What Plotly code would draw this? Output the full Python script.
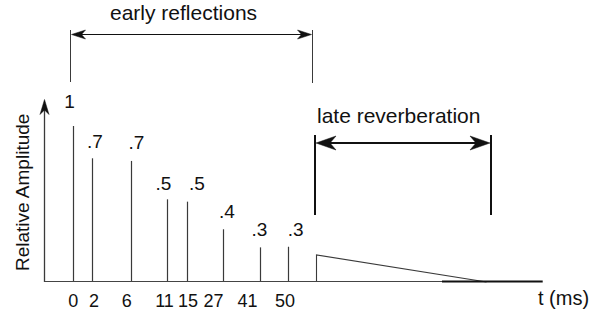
import plotly.graph_objects as go

# ---------------- data ----------------
times = [0, 2, 6, 11, 15, 27, 41, 50]                       # tick labels, ms
amp_labels = ["1", ".7", ".7", ".5", ".5", ".4", ".3", ".3"]  # printed amplitudes
heights = [1.0, 0.793, 0.776, 0.530, 0.515, 0.338, 0.222, 0.226]  # drawn heights
reverb_level = [0.173, 0.0]                                 # late reverb envelope

# ---------------- layout constants ----------------
W, H = 592, 317
BASE_PX = 282.0          # pixel row of the time axis
PX_PER_UNIT = 156.0      # pixels per amplitude unit


def py(p):
    """pixel row -> amplitude units"""
    return (BASE_PX - p) / PX_PER_UNIT


impulse_x = [73.5, 92.5, 131.5, 167.5, 187.5, 223.5, 260.5, 288.5]
tick_x = [73.3, 94.0, 126.7, 164.5, 188.0, 213.5, 247.5, 285.0]
label_xy = [(69.5, 103.7), (95.0, 143.5), (136.5, 144.0), (163.5, 185.0),
            (197.0, 185.0), (227.0, 213.5), (259.5, 231.0), (295.7, 231.5)]
reverb_x = [316.5, 486.5]

FONT = "Liberation Sans, Arial, Helvetica, sans-serif"
INK = "#111111"
LINE = "#3a3a3a"

fig = go.Figure()

# impulses
ix, iy = [], []
for xp, h in zip(impulse_x, heights):
    ix += [xp, xp, None]
    iy += [0, h, None]
fig.add_trace(go.Scatter(x=ix, y=iy, mode="lines",
                         line=dict(color=LINE, width=1.2), hoverinfo="skip"))

# late reverberation envelope
fig.add_trace(go.Scatter(x=[reverb_x[0], reverb_x[0], reverb_x[1]],
                         y=[0, reverb_level[0], reverb_level[1]], mode="lines",
                         line=dict(color=LINE, width=1.1), hoverinfo="skip"))

# amplitude labels
fig.add_trace(go.Scatter(x=[p[0] for p in label_xy], y=[py(p[1]) for p in label_xy],
                         mode="text", text=amp_labels, textposition="middle center",
                         textfont=dict(family=FONT, size=19, color=INK),
                         hoverinfo="skip"))

# time tick labels
fig.add_trace(go.Scatter(x=tick_x, y=[py(302.5)] * len(times), mode="text",
                         text=[str(t) for t in times], textposition="middle center",
                         textfont=dict(family=FONT, size=18, color=INK),
                         hoverinfo="skip"))

shapes = []


def seg(x0, y0, x1, y1, w=1.0, c=LINE):
    shapes.append(dict(type="line", xref="x", yref="y", x0=x0, y0=py(y0),
                       x1=x1, y1=py(y1), line=dict(color=c, width=w)))


def head(tx, ty, dx, dy, L, Wd, notch, c=INK):
    # tip at pixel (tx, ty), direction (dx, dy) in pixel space
    nx, ny = -dy, dx
    bx, by = tx - dx * L, ty - dy * L
    p1 = (bx + nx * Wd / 2, by + ny * Wd / 2)
    p2 = (bx - nx * Wd / 2, by - ny * Wd / 2)
    nn = (tx - dx * (L - notch), ty - dy * (L - notch))
    pts = [(tx, ty), p1, nn, p2]
    path = "M" + " L".join(f"{x:.2f},{py(y):.5f}" for x, y in pts) + " Z"
    shapes.append(dict(type="path", xref="x", yref="y", path=path,
                       fillcolor=c, line=dict(color=c, width=0.5)))


# axes
seg(44.5, BASE_PX, 44.5, 104, w=1.3, c=LINE)
head(44.5, 99.5, 0, -1, 15, 9, 4.5)
seg(44.5, 281.5, 442, 281.5, w=1.2, c="#444444")
seg(442, 281.5, 542.7, 281.5, w=2.0, c="#111111")

# early reflections bracket
seg(70.5, 30, 70.5, 82, w=1.0)
seg(312.5, 30, 312.5, 83, w=1.0)
seg(75, 34.5, 308, 34.5, w=1.2, c=INK)
head(71.5, 34.5, -1, 0, 14, 9, 4)
head(311.5, 34.5, 1, 0, 14, 9, 4)

# late reverberation bracket
seg(315, 135, 315, 215, w=2.0, c=INK)
seg(491, 135, 491, 215, w=2.0, c=INK)
seg(322, 143, 484, 143, w=2.0, c=INK)
head(316, 143, -1, 0, 20, 14, 6)
head(490, 143, 1, 0, 20, 14, 6)

annotations = [
    dict(x=183.5, y=py(12.5), text="early reflections", showarrow=False,
         font=dict(family=FONT, size=21, color=INK), xanchor="center", yanchor="middle"),
    dict(x=398, y=py(115.5), text="late reverberation", showarrow=False,
         font=dict(family=FONT, size=21, color=INK), xanchor="center", yanchor="middle"),
    dict(x=563, y=py(297.5), text="t (ms)", showarrow=False,
         font=dict(family=FONT, size=20, color=INK), xanchor="center", yanchor="middle"),
    dict(x=22.5, y=py(192.5), text="Relative Amplitude", showarrow=False, textangle=-90,
         font=dict(family=FONT, size=19, color=INK), xanchor="center", yanchor="middle"),
]

fig.update_layout(
    width=W, height=H, autosize=False,
    margin=dict(l=0, r=0, t=0, b=0, pad=0),
    paper_bgcolor="white", plot_bgcolor="white",
    showlegend=False,
    xaxis=dict(range=[0, W], visible=False, fixedrange=True),
    yaxis=dict(range=[py(H), py(0)], visible=False, fixedrange=True),
    shapes=shapes, annotations=annotations,
)

# remove the browser's default 8px page margin so the figure fills the window
fig.write_html("out.html",
               config={"displayModeBar": False, "staticPlot": True},
               post_script="document.body.style.margin='0px';"
                           "document.body.style.overflow='hidden';")
